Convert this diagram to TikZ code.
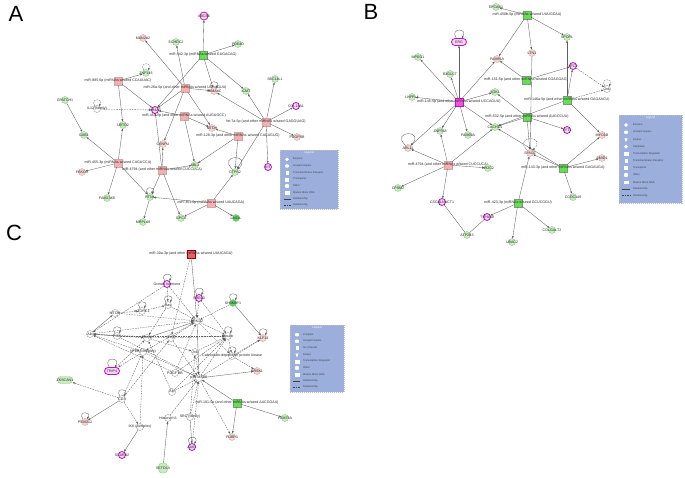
\documentclass[tikz,border=0pt]{standalone}
\usepackage{fontspec}
\setmainfont{Liberation Sans}
\usetikzlibrary{arrows.meta,shapes.geometric}
\definecolor{gfl}{HTML}{C8EEC0}
\definecolor{gbd}{HTML}{8CCB84}
\definecolor{gdk}{HTML}{5CD65C}
\definecolor{pfl}{HTML}{F6D6D6}
\definecolor{pbd}{HTML}{D8A4A4}
\definecolor{mgd}{HTML}{C010C0}
\definecolor{mgf}{HTML}{F4D8F4}
\definecolor{mgreen}{HTML}{66DD55}
\definecolor{mpink}{HTML}{F2B0B0}
\definecolor{mmag}{HTML}{EE55DD}
\definecolor{mred}{HTML}{E86060}
\definecolor{edg}{HTML}{606060}
\definecolor{lgb}{HTML}{9BAEDC}
\begin{document}
\begin{tikzpicture}[x=1pt,y=-1pt,
  every label/.style={font=\fontsize{3.6}{4}\selectfont, inner sep=0pt, text=black!85},
  nd/.style={draw, inner sep=0pt, minimum size=7pt, line width=0.4pt},
  gn/.style={nd, circle, draw=gbd, fill=gfl},
  gnD/.style={nd, circle, draw=gbd, fill=gdk},
  pk/.style={nd, circle, draw=pbd, fill=pfl},
  wt/.style={nd, circle, draw=black!40, fill=white},
  mg/.style={nd, circle, draw=mgd, fill=mgf, line width=0.8pt},
  mgp/.style={mg, rectangle, rounded corners=3.5pt, minimum width=15pt},
  gnp/.style={gn, rectangle, rounded corners=3.5pt, minimum width=15pt},
  mir/.style={nd, rectangle, minimum size=7.5pt},
  mgr/.style={mir, draw=gbd!80!black, fill=mgreen},
  mpk/.style={mir, draw=pbd, fill=mpink},
  mmg/.style={mir, draw=mgd, fill=mmag},
  mrd/.style={mir, draw=red!60!black, fill=mred},
  rel/.style={draw=edg, line width=0.35pt, -{Stealth[length=2.4pt,width=2pt]}},
  dsh/.style={dash pattern=on 1.6pt off 1pt},
  lp/.style={loop, out=125, in=55, min distance=9pt, looseness=6},
  bigloop/.style={loop, out=135, in=45, min distance=22pt, looseness=5},
  pnl/.style={font=\fontsize{22}{22}\selectfont, inner sep=0pt},
  lgbox/.style={fill=lgb, draw=white!75!black, dash pattern=on 1pt off 1pt, line width=0.3pt},
  lgtitle/.style={font=\fontsize{2.8}{3}\selectfont, text=white, inner sep=0pt},
  lgtxt/.style={font=\fontsize{2.6}{3}\selectfont, anchor=west, inner sep=0pt, text=black!75},
  lgicon/.style={fill=white, draw=white, inner sep=0pt, minimum size=3pt},
]
\useasboundingbox (0,0) rectangle (685,478);

% ---------------- panel A ----------------
\node[pnl] (labA) at (16,14) {A};
\node[mg, minimum size=8pt, label={center:ABCB6}] (abcb) at (204,16) {};
\node[pk, label={center:MAN2A2}] (man2a2) at (143,38) {};
\node[gn, label={center:ECHDC2}] (echdc2) at (176,42) {};
\node[gn, label={center:PDE4D}] (pde4d) at (238,44) {};
\node[mgr, label={center:miR-542-3p (miRNAs w/seed GUGACAG)}] (m542) at (203,55) {};
\node[gn, label={center:ZNF146}] (zn146) at (146,73) {};
\node[mpk, label={center:miR-885-5p (miRNAs w/seed CCAUUAC)}] (m885) at (118,81) {};
\node[mpk, label={center:miR-26a-5p (and other miRNAs w/seed UCAAGUA)}] (m26a) at (185,88) {};
\node[pk, label={center:SEMA4C}] (sema) at (214,91) {};
\node[gn, label={center:ICMT}] (icmt) at (246,91) {};
\node[gn, label={center:SEC14L1}] (sec14) at (275,79) {};
\node[gn, label={center:GPATCH1}] (gpatch) at (65,100) {};
\node[wt, label={center:IL12 (family)}] (il12) at (97,109) {};
\node[mg, label={center:NR4A3}] (nr4a3) at (155,110) {};
\node[mg, label={center:COL14A1}] (col14) at (296,106) {};
\node[mpk, label={center:miR-455-5p (and other miRNAs w/seed AUGUGCC)}] (m455a) at (184,116) {};
\node[mpk, label={center:let-7a-5p (and other miRNAs w/seed GAGGUAG)}] (let7) at (266,122) {};
\node[gn, label={center:UBTD2}] (ubtd2) at (123,125) {};
\node[pk, label={center:MTDH}] (mtdh) at (212,128) {};
\node[mpk, label={center:miR-128-3p (and other miRNAs w/seed CACAGUG)}] (m128) at (238,136) {};
\node[pk, label={center:PDGFRB}] (pdgfrb) at (297,137) {};
\node[gn, label={center:GAB1}] (gab1) at (84,135) {};
\node[pk, label={center:CENPU}] (cenpu) at (163,144) {};
\node[mpk, label={center:miR-455-3p (miRNAs w/seed CAGUCCA)}] (m455b) at (118,163) {};
\node[mpk, label={center:miR-4794 (and other miRNAs w/seed CUCCUCA)}] (m4794) at (162,170) {};
\node[pk, label={center:FBXO3}] (fbxo3) at (82,172) {};
\node[gn, label={center:ABL2}] (abl2) at (195,165) {};
\node[gn, label={center:CTPS2}] (ctps2) at (235,172) {};
\node[mg, label={center:KIT}] (kit) at (268,167) {};
\node[gn, label={center:FAM134B}] (fam134) at (107,198) {};
\node[gn, label={center:RTN4}] (rtn4) at (150,197) {};
\node[mpk, label={center:miR-361-5p (miRNAs w/seed UAUCAGA)}] (m361) at (211,203) {};
\node[gn, label={center:GPC4}] (gpc4) at (181,218) {};
\node[gnD, label={center:LAS1L}] (las1l) at (236,218) {};
\node[gn, label={center:MRPL49}] (mrpl49) at (143,222) {};
\path[rel]
  (m542) edge (abcb)   (m542) edge (pde4d)  (m542) edge (nr4a3)
  (m542) edge (sema)   (m542) edge (icmt)
  (m26a) edge (man2a2) (m26a) edge (echdc2) (m26a) edge (nr4a3)
  (m26a) edge (sema)   (m26a) edge (mtdh)   (m26a) edge (cenpu)
  (m885) edge (zn146)  (m885) edge (nr4a3)  (m885) edge (ubtd2)
  (m455a) edge (nr4a3) (m455a) edge (mtdh)  (m455a) edge (abl2)
  (let7) edge (sec14)  (let7) edge (col14)  (let7) edge (sema)
  (let7) edge (icmt)   (let7) edge (ctps2)  (let7) edge (kit)
  (let7) edge (pdgfrb)
  (m128) edge (mtdh)   (m128) edge (ctps2)  (m128) edge (abl2)
  (gpatch) edge (gab1)
  (m455b) edge (gab1)  (m455b) edge (fbxo3) (m455b) edge (fam134)
  (m455b) edge (rtn4)  (m455b) edge (ubtd2)
  (m4794) edge (cenpu) (m4794) edge (rtn4)  (m4794) edge (gpc4)
  (m4794) edge (abl2)  (m4794) edge (nr4a3)
  (rtn4) edge (mrpl49)
  (m361) edge (rtn4)   (m361) edge (gpc4)   (m361) edge (las1l)
  (m361) edge (ctps2)
  (sema) edge[lp] (sema) (rtn4) edge[lp] (rtn4) (ctps2) edge[bigloop] (ctps2);
\path[rel,dsh]
  (il12) edge (nr4a3)
  (zn146) edge[lp] (zn146) (il12) edge[lp] (il12);
% legend A
\node[lgbox, minimum width=58pt, minimum height=59pt, inner sep=0pt] (legA) at (309,179.5) {};
\node[lgtitle] (legAt) at (309,153) {Legend};
\node[lgicon, circle] (aI1) at (287,159.3) {};  \node[lgtxt] (aT1) at (293,159.3) {Enzyme};
\node[lgicon, ellipse, minimum width=4pt] (aI2) at (287,166) {}; \node[lgtxt] (aT2) at (293,166) {Group/Complex};
\node[lgicon, rectangle, minimum width=2pt] (aI3) at (287,172.7) {}; \node[lgtxt] (aT3) at (293,172.7) {Transmembrane Receptor};
\node[lgicon, rectangle] (aI4) at (287,179.3) {}; \node[lgtxt] (aT4) at (293,179.3) {Transporter};
\node[lgicon, circle, minimum size=4pt] (aI5) at (287,186) {}; \node[lgtxt] (aT5) at (293,186) {Other};
\node[lgicon, rectangle, minimum width=4pt, minimum height=2.5pt] (aI6) at (287,192.7) {}; \node[lgtxt] (aT6) at (293,192.7) {Mature Micro RNA};
\draw[edg!70!black, line width=0.4pt] (284,199) -- (291,199);
\node[lgtxt] (aT7) at (293,199) {Relationship};
\draw[edg!70!black, line width=0.4pt, dsh] (284,205) -- (291,205);
\node[lgtxt] (aT8) at (293,205) {Relationship};

% ---------------- panel B ----------------
\node[pnl] (labB) at (371,12) {B};
\node[gn, label={center:EFCAB1}] (efcab) at (496,7) {};
\node[mgr, label={center:miR-450b-5p (miRNAs w/seed UUUGCAA)}] (m450) at (527,15) {};
\node[gn, label={center:SPOPL}] (spopl) at (567,37) {};
\node[mgp, label={center:ERG}] (erg) at (459,42) {};
\node[gn, label={center:MPEG1}] (mpeg1) at (418,57) {};
\node[pk, label={center:LTN1}] (ltn1) at (532,53) {};
\node[pk, label={center:FAM65A}] (fam65a) at (497,59) {};
\node[gn, label={center:B3GLCT}] (b3glct) at (450,74) {};
\node[mg, label={center:APC2}] (apc2) at (573,66) {};
\node[wt, label={center:Jnk}] (jnk) at (607,89) {};
\node[mgr, label={center:miR-151-5p (and other miRNAs w/seed CGAGGAG)}] (m151) at (526,80) {};
\node[gn, label={center:LHFPL4}] (lhfpl4) at (412,97) {};
\node[gn, label={center:SGK1}] (sgk1) at (495,92) {};
\node[mmg, label={center:miR-145-5p (and other miRNAs w/seed UCCAGUU)}] (m145) at (459,102) {};
\node[mgr, label={center:miR-146a-5p (and other miRNAs w/seed GAGAACU)}] (m146) at (567,100) {};
\node[mgr, label={center:miR-532-5p (and other miRNAs w/seed AUGCCUU)}] (m532) at (527,117) {};
\node[gn, label={center:CACHD1}] (cachd1) at (495,127) {};
\node[mg, label={center:SYT1}] (syt1) at (567,130) {};
\node[gn, label={center:ZNF558}] (znf558) at (440,131) {};
\node[gn, label={center:FAM69A}] (fam69a) at (468,135) {};
\node[pk, label={center:ARL11}] (arl11) at (408,148) {};
\node[pk, label={center:SYNJ2}] (synj2) at (530,153) {};
\node[mpk, label={center:miR-4794 (and other miRNAs w/seed CUCCUCA)}] (m4794b) at (448,165) {};
\node[gn, label={center:NR2C2}] (nr2c2) at (488,168) {};
\node[mgr, label={center:miR-143-3p (and other miRNAs w/seed GAGAUGA)}] (m143) at (563,168) {};
\node[pk, label={center:MYO1B}] (myo1b) at (602,135) {};
\node[pk, label={center:EMID1}] (emid1) at (602,158) {};
\node[gn, label={center:CCDC149}] (ccdc149) at (573,197) {};
\node[gn, label={center:CPSM2}] (cpsm2) at (398,188) {};
\node[mg, label={center:CSGALNACT1}] (csgal) at (442,202) {};
\node[mgr, label={center:miR-423-3p (miRNAs w/seed GCUCGGU)}] (m423) at (518,203) {};
\node[mg, label={center:TSPAN9}] (tspan9) at (487,217) {};
\node[gn, label={center:ATP2B3}] (atp2b3) at (467,235) {};
\node[gn, label={center:UBAC2}] (ubac2) at (512,242) {};
\node[gn, label={center:COLGALT2}] (colgalt2) at (552,230) {};
\path[rel]
  (m450) edge (efcab)  (m450) edge (spopl)  (m450) edge (ltn1)  (m450) edge (fam65a)
  (m146) edge (spopl)  (m146) edge (apc2)   (m146) edge (myo1b) (m146) edge (cachd1)
  (m151) edge (fam65a) (m151) edge (apc2)
  (m145) edge (erg)    (m145) edge (mpeg1)  (m145) edge (b3glct) (m145) edge (lhfpl4)
  (m145) edge (arl11)  (m145) edge (znf558) (m145) edge (fam69a) (m145) edge (cachd1)
  (m145) edge (sgk1)   (m145) edge (fam65a)
  (m532) edge (sgk1)   (m532) edge (cachd1) (m532) edge (syt1)  (m532) edge (synj2)
  (m4794b) edge (arl11) (m4794b) edge (cpsm2) (m4794b) edge (csgal)
  (m4794b) edge (cachd1) (m4794b) edge (znf558) (m4794b) edge (nr2c2)
  (m143) edge (myo1b)  (m143) edge (emid1)  (m143) edge (ccdc149) (m143) edge (synj2)
  (m143) edge (cachd1)
  (m423) edge (synj2)  (m423) edge (tspan9) (m423) edge (ubac2) (m423) edge (colgalt2)
  (ltn1) edge (synj2)
  (erg) edge[lp] (erg) (arl11) edge[bigloop] (arl11);
\path[rel,-]
  (csgal) edge (atp2b3) (tspan9) edge (atp2b3);
\path[rel,dsh]
  (apc2) edge (jnk) (m146) edge (jnk)
  (jnk) edge[lp] (jnk) (synj2) edge[bigloop] (synj2);
% legend B
\node[lgbox, minimum width=63pt, minimum height=88pt, inner sep=0pt] (legB) at (650.5,159) {};
\node[lgtitle] (legBt) at (650.5,118) {Legend};
\node[lgicon, circle] (bI1) at (626,125) {};  \node[lgtxt] (bT1) at (633,125) {Enzyme};
\node[lgicon, ellipse, minimum width=4pt] (bI2) at (626,132.3) {}; \node[lgtxt] (bT2) at (633,132.3) {Group/Complex};
\node[lgicon, isosceles triangle, minimum size=2.5pt, rotate=-90] (bI3) at (626,139.3) {}; \node[lgtxt] (bT3) at (633,139.3) {Kinase};
\node[lgicon, circle, minimum size=3.5pt] (bI4) at (626,146.7) {}; \node[lgtxt] (bT4) at (633,146.7) {Peptidase};
\node[lgicon, rectangle, minimum width=4pt] (bI5) at (626,153.7) {}; \node[lgtxt] (bT5) at (633,153.7) {Transcription Regulator};
\node[lgicon, rectangle, minimum width=2pt] (bI6) at (626,160.7) {}; \node[lgtxt] (bT6) at (633,160.7) {Transmembrane Receptor};
\node[lgicon, rectangle] (bI7) at (626,168) {}; \node[lgtxt] (bT7) at (633,168) {Transporter};
\node[lgicon, circle, minimum size=4pt] (bI8) at (626,175) {}; \node[lgtxt] (bT8) at (633,175) {Other};
\node[lgicon, rectangle, minimum width=4pt, minimum height=2.5pt] (bI9) at (626,182.3) {}; \node[lgtxt] (bT9) at (633,182.3) {Mature Micro RNA};
\draw[edg!70!black, line width=0.4pt] (622,189.3) -- (630,189.3);
\node[lgtxt] (bT10) at (633,189.3) {Relationship};
\draw[edg!70!black, line width=0.4pt, dsh] (622,195.7) -- (630,195.7);
\node[lgtxt] (bT11) at (633,195.7) {Relationship};

% ---------------- panel C ----------------
\node[pnl] (labC) at (14,233) {C};
\node[mrd, label={center:miR-30a-3p (and other miRNAs w/seed UUUCAGU)}] (m30a) at (191,254) {};
\node[mg, label={center:Growth hormone}] (gh) at (167,284) {};
\node[mg, label={center:GRB10}] (grb10) at (199,298) {};
\node[gnD, label={center:SH3KBP1}] (sh3) at (233,303) {};
\node[wt, label={center:MTOR}] (mtor) at (115,313) {};
\node[wt, label={center:mTORC1}] (mtorc1) at (142,311) {};
\node[wt, label={center:Ras}] (ras) at (168,305) {};
\node[wt, label={center:ERK1/2}] (erk) at (197,321) {};
\node[wt, label={center:Akt}] (akt) at (90,334) {};
\node[wt, label={center:PI3K}] (pi3k) at (117,336) {};
\node[wt, label={center:Pkc(s)}] (pkc) at (147,338) {};
\node[wt, label={center:Vegf}] (vegf) at (171,338) {};
\node[wt, label={center:Insulin}] (ins) at (228,336) {};
\node[pk, label={center:KLF13}] (klf13) at (263,338) {};
\node[wt, label={center:NFkB (complex)}] (nfkb) at (143,352) {};
\node[wt, label={center:Jnk}] (jnk2) at (195,352) {};
\node[wt, label={center:Calmodulin-dependent protein kinase}] (camk) at (232,356) {};
\node[pk, label={center:BRSK1}] (brsk1) at (257,371) {};
\node[mgp, label={center:TRIP4}] (trip4) at (112,371) {};
\node[wt, label={center:PDGF BB}] (pdgf) at (175,373) {};
\node[wt, label={center:p38 MAPK}] (p38) at (199,378) {};
\node[gnp, label={center:ZKSCAN1}] (zkscan) at (65,380) {};
\node[wt, label={center:Alp}] (alp) at (172,392) {};
\node[wt, label={center:CD3}] (cd3) at (122,399) {};
\node[mgr, label={center:miR-191-5p (and other miRNAs w/seed AACGGAA)}] (m191) at (237,403) {};
\node[wt, label={center:SRC (family)}] (src) at (190,417) {};
\node[wt, label={center:Histone h3}] (h3) at (168,418) {};
\node[gn, label={center:FAM78A}] (fam78a) at (285,418) {};
\node[pk, label={center:PSMD12}] (psmd12) at (85,422) {};
\node[wt, label={center:IKK (complex)}] (ikk) at (140,427) {};
\node[pk, label={center:FUBP3}] (fubp3) at (232,437) {};
\node[mg, label={center:AAK1}] (aak1) at (192,447) {};
\node[mg, label={center:SCARB2}] (scarb2) at (122,455) {};
\node[gnp, minimum width=9pt, minimum height=10pt, label={center:SETD1A}] (setd1a) at (163,468) {};
\path[rel]
  (m30a) edge (erk)    (sh3) edge (klf13)
  (m191) edge (fam78a) (m191) edge (fubp3) (m191) edge (p38)
  (setd1a) edge (h3)   (ikk) edge (scarb2) (cd3) edge (psmd12)
  (p38) edge (brsk1)   (akt) edge (mtor)   (pi3k) edge (akt)
  (src) edge (aak1)    (erk) edge (p38)    (pkc) edge (erk)
  (gh) edge[lp] (gh)   (grb10) edge[lp] (grb10) (sh3) edge[lp] (sh3)
  (ins) edge[lp] (ins) (klf13) edge[lp] (klf13) (psmd12) edge[lp] (psmd12)
  (ras) edge[lp] (ras) (mtorc1) edge[lp] (mtorc1) (pi3k) edge[lp] (pi3k)
  (trip4) edge[lp] (trip4) (cd3) edge[lp] (cd3) (aak1) edge[lp] (aak1)
  (camk) edge[lp] (camk);
\path[rel,dsh]
  (gh) edge (erk)      (gh) edge (ras)     (gh) edge (akt)
  (grb10) edge (ins)   (grb10) edge (erk)  (mtor) edge (mtorc1)
  (mtorc1) edge (ras)  (ras) edge (erk)    (akt) edge (pkc)
  (akt) edge (erk)     (pi3k) edge (ins)   (pkc) edge (jnk2)
  (vegf) edge (erk)    (vegf) edge (p38)   (vegf) edge (ins)
  (erk) edge (ins)     (erk) edge (camk)   (ins) edge (camk)
  (camk) edge (klf13)  (camk) edge (brsk1) (sh3) edge (erk)
  (nfkb) edge (p38)    (nfkb) edge (trip4) (trip4) edge (pkc)
  (jnk2) edge (p38)    (jnk2) edge (ins)   (pdgf) edge (akt)
  (pdgf) edge (erk)    (pdgf) edge (ins)   (cd3) edge (nfkb)
  (cd3) edge (vegf)    (cd3) edge (zkscan) (cd3) edge (ikk)
  (h3) edge (p38)      (src) edge (p38)    (src) edge (jnk2)
  (ikk) edge (nfkb)    (alp) edge (p38)    (alp) edge (pkc)
  (aak1) edge (p38)    (p38) edge (fubp3)  (p38) edge (klf13)
  (mtor) edge (erk)    (akt) edge (nfkb)   (pi3k) edge (p38)
  (vegf) edge (akt)    (ras) edge (pkc)    (erk) edge (nfkb)
  (m30a) edge (vegf)   (p38) edge (ins)    (alp) edge (ins);
% legend C
\node[lgbox, minimum width=54pt, minimum height=67pt, inner sep=0pt] (legC) at (317,358.5) {};
\node[lgtitle] (legCt) at (317,327.5) {Legend};
\node[lgicon, ellipse, minimum width=4pt] (cI1) at (297,334.7) {}; \node[lgtxt] (cT1) at (303,334.7) {Complex};
\node[lgicon, ellipse, minimum width=4pt] (cI2) at (297,341.3) {}; \node[lgtxt] (cT2) at (303,341.3) {Group/Complex};
\node[lgicon, rectangle, minimum width=2pt] (cI3) at (297,348) {}; \node[lgtxt] (cT3) at (303,348) {Ion Channel};
\node[lgicon, isosceles triangle, minimum size=2.5pt, rotate=-90] (cI4) at (297,354.7) {}; \node[lgtxt] (cT4) at (303,354.7) {Kinase};
\node[lgicon, rectangle, minimum width=4pt] (cI5) at (297,361.3) {}; \node[lgtxt] (cT5) at (303,361.3) {Transcription Regulator};
\node[lgicon, circle, minimum size=4pt] (cI6) at (297,368) {}; \node[lgtxt] (cT6) at (303,368) {Other};
\node[lgicon, rectangle, minimum width=4pt, minimum height=2.5pt] (cI7) at (297,374.7) {}; \node[lgtxt] (cT7) at (303,374.7) {Mature Micro RNA};
\draw[edg!70!black, line width=0.4pt] (293,381.3) -- (300,381.3);
\node[lgtxt] (cT8) at (303,381.3) {Relationship};
\draw[edg!70!black, line width=0.4pt, dsh] (293,387.3) -- (300,387.3);
\node[lgtxt] (cT9) at (303,387.3) {Relationship};
\end{tikzpicture}
\end{document}
